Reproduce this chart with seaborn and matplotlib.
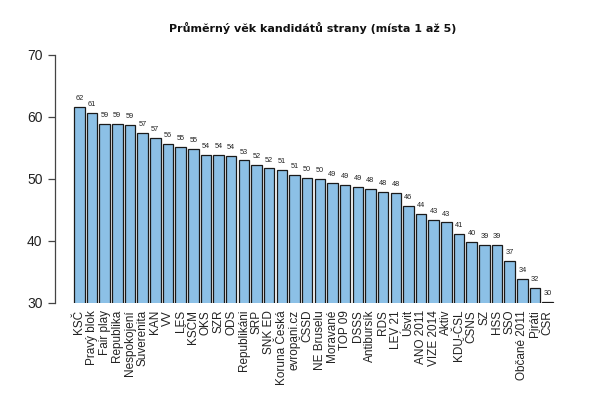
import matplotlib
matplotlib.use("Agg")
import matplotlib.pyplot as plt
import seaborn as sns
import pandas as pd

parties = ["KSČ", "Pravý blok", "Fair play", "Republika", "Nespokojení", "Suverenita",
           "KAN", "VV", "LES", "KSČM", "OKS", "SZR", "ODS", "Republikáni", "SRP",
           "SNK ED", "Koruna Česká", "evropani.cz", "ČSSD", "NE Bruselu", "Moravané",
           "TOP 09", "DSSS", "Antibursík", "RDS", "LEV 21", "Úsvit", "ANO 2011",
           "VIZE 2014", "Aktiv", "KDU-ČSL", "ČSNS", "SZ", "HSS", "SSO", "Občané 2011",
           "Piráti", "ČSR"]
ages = [61.6, 60.6, 58.9, 58.9, 58.7, 57.4, 56.6, 55.6, 55.2, 54.8, 53.9, 53.9,
        53.7, 53.0, 52.2, 51.7, 51.4, 50.6, 50.2, 50.0, 49.4, 49.0, 48.7, 48.4,
        47.9, 47.8, 45.7, 44.4, 43.4, 43.0, 41.1, 39.9, 39.4, 39.3, 36.8, 33.9,
        32.4, 30.2]
labels = ["62", "61", "59", "59", "59", "57", "57", "56", "55", "55", "54", "54",
          "54", "53", "52", "52", "51", "51", "50", "50", "49", "49", "49", "48",
          "48", "48", "46", "44", "43", "43", "41", "40", "39", "39", "37", "34",
          "32", "30"]
yticks = [30, 40, 50, 60, 70]

df = pd.DataFrame({"strana": parties, "vek": ages})

sns.set_style("white")
plt.rcParams["font.family"] = ["Liberation Sans", "DejaVu Sans"]

W, H = 600, 401
fig = plt.figure(figsize=(W / 100, H / 100), dpi=100)
ax_left, ax_right, ax_top, ax_bot = 55, 572, 55, 303
ax = fig.add_axes([ax_left / W, 1 - ax_bot / H, (ax_right - ax_left) / W, (ax_bot - ax_top) / H])

sns.barplot(data=df, x="strana", y="vek", color="#8CC0E6", saturation=1,
            width=0.833, edgecolor="#1a1a1a", linewidth=0.9, ax=ax)

ax.set_ylim(30, 70)
ax.set_xlim(-1.92, 38.92)
ax.set_yticks(yticks)
ax.set_yticklabels([str(t) for t in yticks], fontsize=10, color="#222222")
for s in ["top", "right", "bottom"]:
    ax.spines[s].set_visible(False)
ax.spines["left"].set_color("#444444")
ax.spines["left"].set_linewidth(0.9)
ax.tick_params(axis="y", length=5, width=0.9, color="#444444", pad=4, left=True)
ax.tick_params(axis="x", length=0, pad=5)
ax.set_xticks(range(len(parties)))
ax.set_xticklabels(parties, rotation=90, fontsize=8.5, color="#222222", va="top", ha="center")
ax.set_xlabel("")
ax.set_ylabel("")

for i, (a, lab) in enumerate(zip(ages, labels)):
    ax.annotate(lab, (i, a), xytext=(0, 3.5), textcoords="offset points",
                ha="center", va="bottom", fontsize=5.3, color="#222222")

fig.text(313 / W, 1 - 28 / H, "Průměrný věk kandidátů strany (místa 1 až 5)",
         ha="center", va="center", fontsize=8, fontweight="bold", color="#111111",
         family=["DejaVu Sans"])

fig.savefig("out.png", dpi=100, facecolor="white")
